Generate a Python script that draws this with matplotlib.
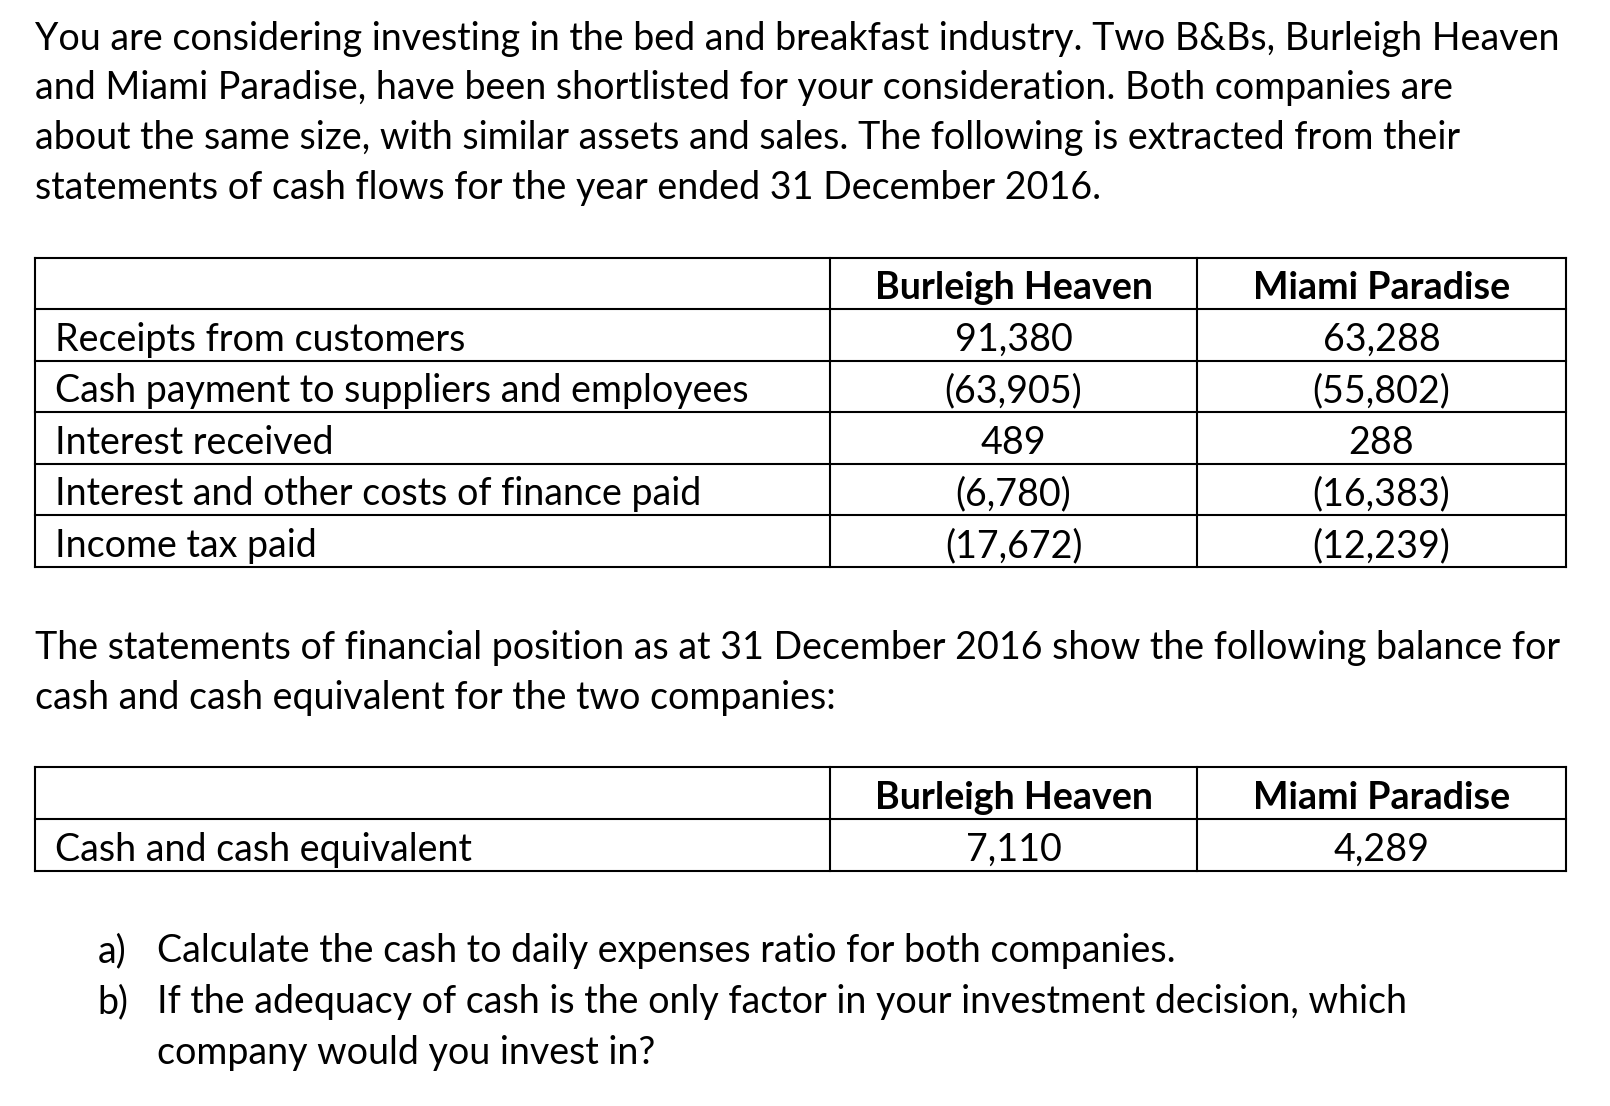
import matplotlib
matplotlib.use("Agg")
from matplotlib import pyplot as plt

plt.rcParams['font.family'] = ['Lato', 'DejaVu Sans']

intro_lines = [
    "You are considering investing in the bed and breakfast industry. Two B&Bs, Burleigh Heaven",
    "and Miami Paradise, have been shortlisted for your consideration. Both companies are",
    "about the same size, with similar assets and sales. The following is extracted from their",
    "statements of cash flows for the year ended 31 December 2016.",
]
companies = ["Burleigh Heaven", "Miami Paradise"]
flow_items = [
    "Receipts from customers",
    "Cash payment to suppliers and employees",
    "Interest received",
    "Interest and other costs of finance paid",
    "Income tax paid",
]
burleigh_flows = ["91,380", "(63,905)", "489", "(6,780)", "(17,672)"]
miami_flows = ["63,288", "(55,802)", "288", "(16,383)", "(12,239)"]
middle_lines = [
    "The statements of financial position as at 31 December 2016 show the following balance for",
    "cash and cash equivalent for the two companies:",
]
cash_item = "Cash and cash equivalent"
burleigh_cash = "7,110"
miami_cash = "4,289"
questions = [
    ("a)", ["Calculate the cash to daily expenses ratio for both companies."]),
    ("b)", ["If the adequacy of cash is the only factor in your investment decision, which",
            "company would you invest in?"]),
]

W, H = 1610, 1106
fig = plt.figure(figsize=(W / 100, H / 100), dpi=100)
ax = fig.add_axes([0, 0, 1, 1])
ax.set_xlim(0, W)
ax.set_ylim(H, 0)
ax.axis('off')

# fit font size so the first line spans the same width as in the page
renderer = fig.canvas.get_renderer()
probe = ax.text(0, 0, intro_lines[0], fontsize=30)
w = probe.get_window_extent(renderer).width
probe.remove()
fs = 30 * 1522 / w

left = 35
line_gap = 49.5
for i, line in enumerate(intro_lines):
    ax.text(left, 39 + i * line_gap, line, fontsize=fs, va='center')

lw = 1.5
x0, x1, x2, x3 = 35, 830, 1197, 1566


def draw_table(top, row_h, n_rows):
    ys = [top + k * row_h for k in range(n_rows + 1)]
    for y in ys:
        ax.plot([x0, x3], [y, y], color='black', lw=lw, solid_capstyle='projecting')
    for x in (x0, x1, x2, x3):
        ax.plot([x, x], [ys[0], ys[-1]], color='black', lw=lw, solid_capstyle='projecting')
    return ys


def row_text(ys, r, label, a, b, bold=False):
    yc = (ys[r] + ys[r + 1]) / 2 + 5
    wt = 'bold' if bold else 'normal'
    if label:
        ax.text(54.5, yc, label, fontsize=fs, va='center')
    ax.text((x1 + x2) / 2, yc, a, fontsize=fs, va='center', ha='center', fontweight=wt)
    ax.text((x2 + x3) / 2, yc, b, fontsize=fs, va='center', ha='center', fontweight=wt)


ys = draw_table(257.7, 51.5, 6)
row_text(ys, 0, "", companies[0], companies[1], bold=True)
for i in range(len(flow_items)):
    row_text(ys, i + 1, flow_items[i], burleigh_flows[i], miami_flows[i])

for i, line in enumerate(middle_lines):
    ax.text(left, 648 + i * line_gap, line, fontsize=fs, va='center')

ys2 = draw_table(767.3, 51.7, 2)
row_text(ys2, 0, "", companies[0], companies[1], bold=True)
row_text(ys2, 1, cash_item, burleigh_cash, miami_cash)

y = 951
for tag, lines in questions:
    ax.text(97.5, y, tag, fontsize=fs, va='center')
    for line in lines:
        ax.text(157, y, line, fontsize=fs, va='center')
        y += 51

fig.savefig("out.png", dpi=100)
